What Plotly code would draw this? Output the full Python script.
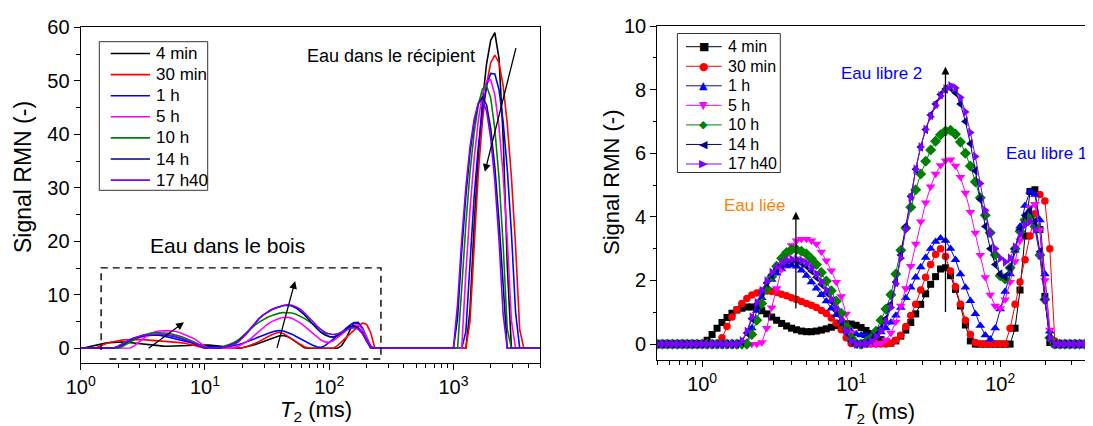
import plotly.graph_objects as go

# ---------------- data ----------------
T2 = [0.5012, 0.5412, 0.5843, 0.6310, 0.6813, 0.7356, 0.7943, 0.8577, 0.9261,
      1.000, 1.080, 1.166, 1.259, 1.359, 1.468, 1.585, 1.711, 1.848, 1.995,
      2.154, 2.326, 2.512, 2.712, 2.929, 3.162, 3.415, 3.687, 3.981, 4.299,
      4.642, 5.012, 5.412, 5.843, 6.310, 6.813, 7.356, 7.943, 8.577, 9.261,
      10.00, 10.80, 11.66, 12.59, 13.59, 14.68, 15.85, 17.11, 18.48, 19.95,
      21.54, 23.26, 25.12, 27.12, 29.29, 31.62, 34.15, 36.87, 39.81, 42.99,
      46.42, 50.12, 54.12, 58.43, 63.10, 68.13, 73.56, 79.43, 85.77, 92.61,
      100.0, 108.0, 116.6, 125.9, 135.9, 146.8, 158.5, 171.1, 184.8, 199.5,
      215.4, 232.6, 251.2, 271.2, 292.9, 316.2, 341.5, 368.7, 398.1, 429.9,
      464.2, 501.2, 541.2, 584.3, 631.0, 681.3, 735.6, 794.3, 857.7, 926.1,
      1000, 1080, 1166, 1259, 1359, 1468, 1585, 1711, 1848, 1995,
      2154, 2326, 2512, 2712, 2929, 3162, 3415, 3687, 3981, 4299,
      4642, 5012]

S_4MIN = [0, 0, 0, 0, 0, 0, 0, 0, 0,
          0, 0.12, 0.30, 0.50, 0.68, 0.84, 0.97, 1.07, 1.13, 1.17,
          1.17, 1.13, 1.05, 0.95, 0.85, 0.75, 0.65, 0.57, 0.50, 0.45,
          0.41, 0.39, 0.39, 0.41, 0.44, 0.48, 0.53, 0.58, 0.62, 0.64,
          0.63, 0.59, 0.52, 0.43, 0.33, 0.23, 0.14, 0.07, 0.03, 0.10,
          0.25, 0.44, 0.68, 0.95, 1.25, 1.58, 1.88, 2.12, 2.36, 2.40,
          2.15, 1.72, 1.20, 0.60, 0.10, 0, 0, 0, 0, 0,
          0, 0, 0, 0.50, 1.70, 3.40, 4.80, 4.85, 3.60, 1.50,
          0.05, 0, 0, 0, 0, 0, 0, 0, 0, 0,
          0, 0, 0, 0, 0, 0, 0, 0, 0, 0,
          0, 0, 0, 0, 7.1, 23.0, 35.9, 46.0, 53.2, 57.6,
          59.0, 54.2, 39.7, 15.6, 0, 0, 0, 0, 0, 0,
          0, 0]

S_30MIN = [0, 0, 0, 0, 0, 0, 0, 0, 0,
           0, 0, 0, 0, 0.20, 0.55, 0.85, 1.08, 1.28, 1.43,
           1.54, 1.61, 1.65, 1.67, 1.65, 1.62, 1.57, 1.52, 1.46, 1.40,
           1.34, 1.28, 1.22, 1.15, 1.06, 0.96, 0.82, 0.66, 0.45, 0.20,
           0.02, 0, 0, 0, 0, 0, 0, 0, 0.03, 0.12,
           0.28, 0.55, 0.90, 1.25, 1.70, 2.10, 2.50, 2.82, 3.00, 2.75,
           2.30, 1.80, 1.25, 0.75, 0.30, 0.05, 0, 0, 0, 0,
           0, 0, 0.50, 1.25, 1.95, 2.65, 3.40, 4.10, 4.70, 4.50,
           3.00, 0.10, 0, 0, 0, 0, 0, 0, 0, 0,
           0, 0, 0, 0, 0, 0, 0, 0, 0, 0,
           0, 0, 0, 0, 5.1, 20.3, 32.7, 42.4, 49.3, 53.4,
           54.8, 53.4, 49.1, 42.0, 32.0, 19.2, 3.5, 0, 0, 0,
           0, 0]

S_1H = [0, 0, 0, 0, 0, 0, 0, 0, 0,
        0, 0, 0, 0, 0, 0, 0, 0, 0, 0.05,
        0.50, 1.05, 1.45, 1.78, 2.03, 2.22, 2.36, 2.45, 2.48, 2.44,
        2.32, 2.15, 1.95, 1.75, 1.55, 1.35, 1.12, 0.92, 0.72, 0.53,
        0.40, 0.32, 0.28, 0.26, 0.26, 0.30, 0.38, 0.50, 0.68, 0.90,
        1.15, 1.45, 1.78, 2.10, 2.42, 2.72, 3.00, 3.22, 3.33, 3.25,
        3.00, 2.65, 2.20, 1.78, 1.36, 0.95, 0.58, 0.28, 0.15, 0.50,
        1.10, 1.65, 2.20, 2.95, 3.70, 4.35, 4.80, 4.70, 3.90, 2.20,
        0.40, 0, 0, 0, 0, 0, 0, 0, 0, 0,
        0, 0, 0, 0, 0, 0, 0, 0, 0, 0,
        0, 0, 0, 3.1, 16.9, 28.4, 37.6, 44.5, 49.1, 51.4,
        51.3, 48.4, 42.4, 33.5, 21.6, 6.8, 0, 0, 0, 0,
        0, 0]

S_5H = [0, 0, 0, 0, 0, 0, 0, 0, 0,
        0, 0, 0, 0, 0, 0, 0, 0, 0, 0,
        0, 0, 0.05, 0.50, 1.15, 1.75, 2.35, 2.80, 3.10, 3.25,
        3.30, 3.30, 3.25, 3.15, 2.90, 2.62, 2.31, 1.95, 1.50, 0.95,
        0.35, 0, 0, 0, 0, 0, 0.02, 0.13, 0.35, 0.70,
        1.20, 1.75, 2.45, 3.15, 3.85, 4.45, 4.95, 5.35, 5.62, 5.77,
        5.80, 5.60, 5.25, 4.75, 4.15, 3.50, 2.80, 2.10, 1.55, 1.20,
        1.12, 1.40, 1.95, 2.60, 3.25, 3.90, 4.30, 4.40, 3.60, 2.00,
        0.45, 0, 0, 0, 0, 0, 0, 0, 0, 0,
        0, 0, 0, 0, 0, 0, 0, 0, 0, 0,
        0, 0, 0, 14.1, 25.9, 35.4, 42.6, 47.4, 50.0, 50.2,
        47.4, 41.5, 32.5, 20.4, 5.2, 0, 0, 0, 0, 0,
        0, 0]

S_10H = [0, 0, 0, 0, 0, 0, 0, 0, 0,
         0, 0, 0, 0, 0, 0, 0, 0, 0, 0,
         0.30, 0.75, 1.28, 1.75, 2.12, 2.45, 2.70, 2.88, 2.97, 2.97,
         2.92, 2.83, 2.68, 2.50, 2.25, 1.98, 1.68, 1.35, 0.97, 0.55,
         0.20, 0.02, 0, 0.08, 0.18, 0.40, 0.75, 1.10, 1.55, 2.20,
         2.95, 3.65, 4.30, 4.85, 5.35, 5.75, 6.10, 6.38, 6.58, 6.70,
         6.72, 6.60, 6.35, 6.00, 5.60, 5.10, 4.60, 4.05, 3.50, 2.80,
         2.15, 2.05, 2.40, 3.00, 3.55, 3.90, 4.00, 3.70, 2.80, 1.40,
         0.20, 0, 0, 0, 0, 0, 0, 0, 0, 0,
         0, 0, 0, 0, 0, 0, 0, 0, 0, 0,
         0, 0, 11.2, 23.2, 32.9, 40.3, 45.5, 48.5, 49.1, 46.8,
         41.0, 31.9, 19.4, 3.6, 0, 0, 0, 0, 0, 0,
         0, 0]

S_14H = [0, 0, 0, 0, 0, 0, 0, 0, 0,
         0, 0, 0, 0, 0, 0, 0, 0, 0.08, 0.35,
         0.80, 1.25, 1.62, 1.92, 2.18, 2.36, 2.48, 2.56, 2.60, 2.60,
         2.55, 2.45, 2.30, 2.10, 1.88, 1.62, 1.35, 1.05, 0.72, 0.38,
         0.08, 0, 0, 0.02, 0.12, 0.28, 0.50, 0.80, 1.25, 1.95,
         2.80, 3.70, 4.65, 5.50, 6.20, 6.75, 7.20, 7.55, 7.85, 8.02,
         8.05, 7.90, 7.55, 7.00, 6.30, 5.45, 4.55, 3.70, 3.00, 2.50,
         2.20, 2.12, 2.40, 3.00, 3.60, 4.05, 4.20, 3.85, 2.90, 1.40,
         0.20, 0, 0, 0, 0, 0, 0, 0, 0, 0,
         0, 0, 0, 0, 0, 0, 0, 0, 0, 0,
         0, 5.7, 18.3, 28.6, 36.6, 42.3, 45.8, 46.9, 45.5, 41.1,
         33.9, 23.8, 10.8, 0, 0, 0, 0, 0, 0, 0,
         0, 0]

S_17H40 = [0, 0, 0, 0, 0, 0, 0, 0, 0,
           0, 0, 0, 0, 0, 0, 0, 0, 0.10, 0.40,
           0.85, 1.30, 1.68, 1.98, 2.25, 2.42, 2.55, 2.63, 2.67, 2.67,
           2.63, 2.55, 2.40, 2.20, 1.97, 1.70, 1.42, 1.12, 0.78, 0.42,
           0.10, 0, 0, 0.02, 0.10, 0.23, 0.42, 0.70, 1.15, 1.90,
           2.70, 3.60, 4.60, 5.50, 6.20, 6.75, 7.15, 7.50, 7.80, 8.02,
           8.12, 8.05, 7.75, 7.30, 6.65, 5.90, 5.05, 4.20, 3.50, 3.00,
           2.70, 2.58, 2.70, 3.05, 3.45, 3.75, 3.85, 3.60, 2.80, 1.40,
           0.20, 0, 0, 0, 0, 0, 0, 0, 0, 0,
           0, 0, 0, 0, 0, 0, 0, 0, 0, 0,
           0, 8.3, 20.3, 30.1, 37.6, 42.8, 45.8, 46.4, 44.4, 39.3,
           31.3, 20.3, 6.4, 0, 0, 0, 0, 0, 0, 0,
           0, 0]

NAMES = ["4 min", "30 min", "1 h", "5 h", "10 h", "14 h", "17 h40"]
SERIES = [S_4MIN, S_30MIN, S_1H, S_5H, S_10H, S_14H, S_17H40]
COLORS = ["#000000", "#FF0000", "#0000FF", "#FF00FF", "#008000", "#000080", "#8000FF"]
SYMBOLS = ["square", "circle", "triangle-up", "triangle-down", "diamond",
           "triangle-left", "triangle-right"]
MARKER_SIZES = [7, 7.5, 8.5, 8.5, 8.5, 8.5, 8.5]
GLYPHS = ["\u25A0", "\u25CF", "\u25B2", "\u25BC", "\u25C6", "\u25C0", "\u25B6"]

for s in SERIES:
    assert len(s) == len(T2), len(s)

X_TICKS_LEFT = [1, 10, 100, 1000]
X_TICKTEXT_LEFT = ["10<sup>0</sup>", "10<sup>1</sup>", "10<sup>2</sup>", "10<sup>3</sup>"]
X_TICKS_RIGHT = [1, 10, 100]
X_TICKTEXT_RIGHT = ["10<sup>0</sup>", "10<sup>1</sup>", "10<sup>2</sup>"]
MINOR_LEFT = [2, 3, 4, 5, 6, 7, 8, 9, 20, 30, 40, 50, 60, 70, 80, 90,
              200, 300, 400, 500, 600, 700, 800, 900, 2000, 3000, 4000, 5000]
MINOR_RIGHT = [0.5, 0.6, 0.7, 0.8, 0.9, 2, 3, 4, 5, 6, 7, 8, 9,
               20, 30, 40, 50, 60, 70, 80, 90, 200, 300, 400, 500]
Y_TICKS_LEFT = [0, 10, 20, 30, 40, 50, 60]
Y_TICKS_RIGHT = [0, 2, 4, 6, 8, 10]

# dashed frame "Eau dans le bois"
BOX_X = [1.70, 261, 261, 1.46, 1.46]
BOX_Y = [-2.0, -2.0, 15.05, 15.05, -0.3]

FONT = "Arial, Liberation Sans, sans-serif"
# the page body has an 8 px margin: the figure is drawn 8 px in from the window corner
OFF = 8
W, H = 1093 - OFF, 426 - OFF


def px_x(v):
    return (v - OFF) / W


def px_y(v):
    return 1 - (v - OFF) / H


fig = go.Figure()

for name, s, c in zip(NAMES, SERIES, COLORS):
    fig.add_trace(go.Scatter(x=T2, y=s, mode="lines", name=name, showlegend=False,
                             line=dict(color=c, width=1.6), xaxis="x", yaxis="y"))

fig.add_trace(go.Scatter(x=BOX_X, y=BOX_Y, mode="lines", showlegend=False,
                         line=dict(color="black", width=1.4, dash="7px,5px"),
                         xaxis="x", yaxis="y", hoverinfo="skip"))

for name, s, c, sym, ms in zip(NAMES, SERIES, COLORS, SYMBOLS, MARKER_SIZES):
    fig.add_trace(go.Scatter(x=T2, y=s, mode="lines+markers", name=name, showlegend=False,
                             line=dict(color=c, width=1),
                             marker=dict(symbol=sym, size=ms, color=c, line=dict(width=0)),
                             xaxis="x2", yaxis="y2"))

axis_common = dict(showline=True, linecolor="black", linewidth=1.3, ticks="outside",
                   ticklen=6, tickwidth=1.3, tickcolor="black", showgrid=False,
                   zeroline=False, automargin=False,
                   tickfont=dict(family=FONT, size=20, color="black"))
minor_common = dict(ticks="outside", ticklen=3.5, tickwidth=1, tickcolor="black", showgrid=False)

fig.update_layout(
    template="none",
    width=W, height=H, margin=dict(l=0, r=0, t=0, b=0, autoexpand=False),
    paper_bgcolor="white", plot_bgcolor="white",
    font=dict(family=FONT, color="black"),
    showlegend=False,
    xaxis=dict(type="log", range=[0, 3.7], domain=[px_x(80.7), px_x(540.4)], anchor="y",
               mirror=True, tickmode="array", tickvals=X_TICKS_LEFT, ticktext=X_TICKTEXT_LEFT,
               minor=dict(tickmode="array", tickvals=MINOR_LEFT, **minor_common),
               **axis_common),
    yaxis=dict(range=[-2.8, 60], domain=[px_y(363.3), px_y(27.4)], anchor="x",
               mirror=True, tickmode="array", tickvals=Y_TICKS_LEFT,
               minor=dict(tickmode="linear", tick0=0, dtick=5, **minor_common),
               **axis_common),
    xaxis2=dict(type="log", range=[-0.301, 2.623], domain=[px_x(657.3), 1.0], anchor="y2",
                mirror=True, tickmode="array", tickvals=X_TICKS_RIGHT, ticktext=X_TICKTEXT_RIGHT,
                minor=dict(tickmode="array", tickvals=MINOR_RIGHT, **minor_common),
                **axis_common),
    yaxis2=dict(range=[-0.5, 10], domain=[px_y(360), px_y(26)], anchor="x2",
                mirror=False, tickmode="array", tickvals=Y_TICKS_RIGHT,
                minor=dict(tickmode="linear", tick0=0, dtick=1, **minor_common),
                **axis_common),
)

ann = []
shapes = []


def text_ann(x, y, text, size, color="black", xref="paper", yref="paper", angle=0,
             xanchor="center", family=FONT):
    return dict(x=x, y=y, xref=xref, yref=yref, text=text, showarrow=False,
                xanchor=xanchor, yanchor="middle", textangle=angle,
                font=dict(family=family, size=size, color=color))


# ---- hand-built legends (paper coordinates) ----
shapes.append(dict(type="rect", xref="paper", yref="paper",
                   x0=px_x(99.3), x1=px_x(207.7), y0=px_y(190.3), y1=px_y(41.7),
                   line=dict(color="#333333", width=1), fillcolor="white", layer="above"))
for i, (name, c) in enumerate(zip(NAMES, COLORS)):
    yc = 53.5 + i * 21.1
    shapes.append(dict(type="line", xref="paper", yref="paper",
                       x0=px_x(110.7), x1=px_x(150), y0=px_y(yc), y1=px_y(yc),
                       line=dict(color=c, width=1.6), layer="above"))
    ann.append(text_ann(px_x(153.5), px_y(yc), name, 17, xanchor="left"))

shapes.append(dict(type="rect", xref="paper", yref="paper",
                   x0=px_x(677.4), x1=px_x(780.3), y0=px_y(172.5), y1=px_y(33.5),
                   line=dict(color="#333333", width=1), fillcolor="white", layer="above"))
for i, (name, c, g) in enumerate(zip(NAMES, COLORS, GLYPHS)):
    yc = 46.7 + i * 19.55
    shapes.append(dict(type="line", xref="paper", yref="paper",
                       x0=px_x(686), x1=px_x(721.7), y0=px_y(yc), y1=px_y(yc),
                       line=dict(color=c, width=1), layer="above"))
    ann.append(text_ann(px_x(703.5), px_y(yc), g, 11, color=c, family="DejaVu Sans"))
    ann.append(text_ann(px_x(725.5), px_y(yc), name, 16, xanchor="left"))

# text labels, left panel (log10 coordinates on log axes)
ann.append(text_ann(2.498, 54.6, "Eau dans le récipient", 18, xref="x", yref="y"))
ann.append(text_ann(1.178, 19.3, "Eau dans le bois", 21, xref="x", yref="y"))
for (hx, hy, tx, ty) in [(3.253, 33.0, 3.506, 56.4), (0.831, 4.86, 0.535, -0.2),
                         (1.726, 12.6, 1.577, -0.2)]:
    ann.append(dict(x=hx, y=hy, ax=tx, ay=ty, xref="x", yref="y", axref="x", ayref="y",
                    text="", showarrow=True, arrowhead=2, arrowsize=1.2, arrowwidth=1.3,
                    arrowcolor="black"))
# right panel labels
ann.append(text_ann(0.351, 4.37, "Eau liée", 17, color="#FF8000", xref="x2", yref="y2"))
ann.append(text_ann(1.204, 8.51, "Eau libre 2", 17, color="#0000FF", xref="x2", yref="y2"))
ann.append(text_ann(2.309, 6.0, "Eau libre 1", 17, color="#0000FF", xref="x2", yref="y2"))
for (hx, hy, tx, ty) in [(0.629, 4.16, 0.629, 1.07), (1.633, 8.72, 1.633, 0.96)]:
    ann.append(dict(x=hx, y=hy, ax=tx, ay=ty, xref="x2", yref="y2", axref="x2", ayref="y2",
                    text="", showarrow=True, arrowhead=2, arrowsize=1.2, arrowwidth=1.3,
                    arrowcolor="black"))
# axis titles
ann.append(text_ann(px_x(23), px_y(177), "Signal RMN (-)", 23, angle=-90))
ann.append(text_ann(px_x(611), px_y(183), "Signal RMN (-)", 22, angle=-90))
ann.append(text_ann(px_x(316), px_y(411), "<i>T</i><sub>2</sub> (ms)", 22))
ann.append(text_ann(px_x(879), px_y(413), "<i>T</i><sub>2</sub> (ms)", 22))

fig.update_layout(annotations=ann, shapes=shapes)

fig.write_html("out.html")
